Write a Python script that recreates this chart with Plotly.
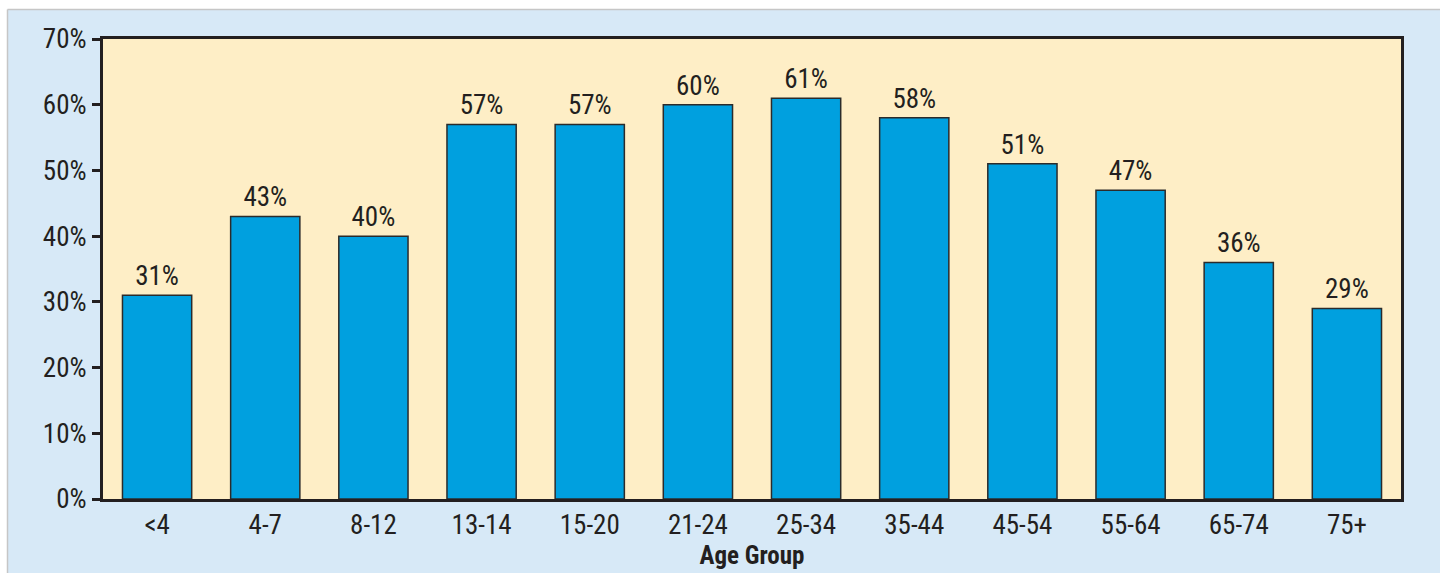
import plotly.graph_objects as go

age_groups = ["<4", "4-7", "8-12", "13-14", "15-20", "21-24", "25-34",
              "35-44", "45-54", "55-64", "65-74", "75+"]
shares = [31, 43, 40, 57, 57, 60, 61, 58, 51, 47, 36, 29]
y_ticks = [0, 10, 20, 30, 40, 50, 60, 70]
y_tick_labels = [f"{v}%" for v in y_ticks]

FONT = ("Roboto Condensed, Liberation Sans Narrow, Arial Narrow, "
        "DejaVu Sans Condensed, sans-serif")
INK = "#231f20"
BAR = "#00a0df"
PLOT_BG = "#feeec6"
PAGE_BG = "#d7e9f7"
FS = 27
FS_TITLE = 25

W, H = 1440, 573
ML, MR, MT, MB = 103, 39, 39, 74
pw, ph = W - ML - MR, H - MT - MB

def px_x(p):
    return (p - ML) / pw

def px_y(p):
    return (H - MB - p) / ph

fig = go.Figure(go.Bar(
    x=age_groups,
    y=shares,
    width=0.64,
    marker=dict(color=BAR, line=dict(color="#2b2b2b", width=1.5)),
    text=[f"{v}%" for v in shares],
    textposition="outside",
    textfont=dict(family=FONT, size=FS, color=INK),
    cliponaxis=False,
))

shapes = [
    # white strip along the top and left page edges
    dict(type="rect", xref="paper", yref="paper", layer="below",
         x0=px_x(0), x1=px_x(W), y0=px_y(9.5), y1=px_y(0),
         fillcolor="white", line_width=0),
    dict(type="rect", xref="paper", yref="paper", layer="below",
         x0=px_x(0), x1=px_x(7.5), y0=px_y(H), y1=px_y(0),
         fillcolor="white", line_width=0),
    dict(type="line", xref="paper", yref="paper", layer="below",
         x0=px_x(7.5), x1=px_x(W), y0=px_y(9.5), y1=px_y(9.5),
         line=dict(color="#c6c6c6", width=1.5)),
    dict(type="line", xref="paper", yref="paper", layer="below",
         x0=px_x(7.5), x1=px_x(7.5), y0=px_y(9.5), y1=px_y(H),
         line=dict(color="#c6c6c6", width=1.5)),
]

fig.update_layout(
    width=W, height=H,
    margin=dict(l=ML, r=MR, t=MT, b=MB, pad=0, autoexpand=False),
    paper_bgcolor=PAGE_BG,
    plot_bgcolor=PLOT_BG,
    showlegend=False,
    shapes=shapes,
    font=dict(family=FONT, size=FS, color=INK),
    xaxis=dict(
        title=dict(text="<b>Age Group</b>", font=dict(family=FONT, size=FS_TITLE, color=INK), standoff=6),
        automargin=False,
        showline=True, linecolor=INK, linewidth=3, mirror=True,
        ticks="", tickfont=dict(family=FONT, size=FS, color=INK),
        showgrid=False, zeroline=False,
    ),
    yaxis=dict(
        range=[0, 70],
        automargin=False,
        tickvals=y_ticks, ticktext=y_tick_labels,
        showline=True, linecolor=INK, linewidth=3, mirror=True,
        ticks="outside", ticklen=8, tickwidth=2.5, tickcolor=INK,
        tickfont=dict(family=FONT, size=FS, color=INK),
        showgrid=False, zeroline=False,
    ),
)

fig.write_html("out.html")
